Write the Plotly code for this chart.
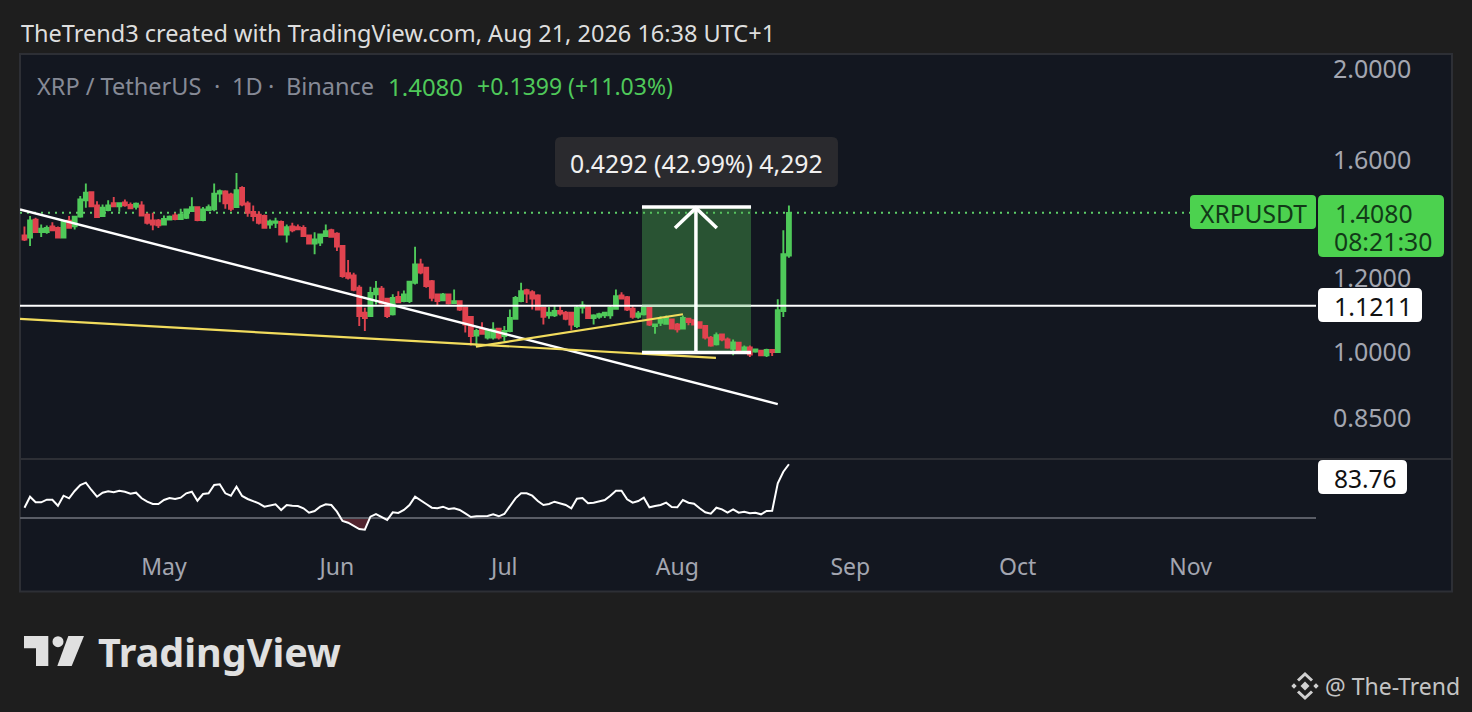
import pandas as pd
import plotly.graph_objects as go

W, H = 1472, 712

# daily candles XRPUSDT
start_day = "2026-04-06"
opens = [1.332,1.325,1.385,1.343,1.343,1.362,1.357,1.325,1.381,1.362,1.395,1.452,1.481,1.434,1.397,1.418,1.442,1.431,1.444,1.436,
         1.429,1.434,1.402,1.382,1.382,1.368,1.385,1.399,1.387,1.391,1.414,1.428,1.383,1.418,1.420,1.476,1.484,1.473,1.428,1.497,
         1.441,1.411,1.402,1.397,1.368,1.374,1.377,1.335,1.362,1.359,1.357,1.332,1.306,1.309,1.330,1.349,1.338,1.298,1.214,1.208,
         1.172,1.102,1.093,1.153,1.169,1.141,1.098,1.146,1.134,1.134,1.186,1.241,1.231,1.191,1.153,1.136,1.153,1.129,1.134,1.116,
         1.091,1.042,1.060,1.037,1.037,1.060,1.041,1.054,1.086,1.134,1.165,1.159,1.150,1.116,1.095,1.095,1.107,1.102,1.102,1.067,
         1.116,1.118,1.088,1.091,1.095,1.095,1.113,1.150,1.145,1.113,1.091,1.098,1.116,1.067,1.075,1.073,1.084,1.071,1.060,1.086,
         1.082,1.077,1.067,1.037,1.020,1.045,1.032,1.009,1.024,1.006,1.012,1.002,1.004,0.993,1.006,1.001,1.107,1.268]
highs = [1.362,1.397,1.391,1.368,1.365,1.376,1.362,1.383,1.397,1.397,1.467,1.513,1.484,1.449,1.437,1.452,1.464,1.445,1.455,1.444,
         1.444,1.449,1.408,1.408,1.387,1.399,1.399,1.408,1.422,1.422,1.463,1.431,1.428,1.437,1.513,1.491,1.488,1.479,1.553,1.503,
         1.449,1.434,1.414,1.402,1.385,1.391,1.382,1.368,1.374,1.368,1.366,1.335,1.343,1.338,1.368,1.354,1.343,1.300,1.254,1.216,
         1.179,1.116,1.175,1.191,1.177,1.143,1.153,1.162,1.164,1.191,1.296,1.258,1.234,1.194,1.155,1.157,1.155,1.167,1.136,1.118,
         1.093,1.060,1.077,1.060,1.077,1.062,1.067,1.111,1.148,1.186,1.169,1.165,1.153,1.118,1.118,1.122,1.122,1.107,1.104,1.122,
         1.134,1.120,1.098,1.102,1.104,1.122,1.167,1.159,1.148,1.122,1.107,1.118,1.118,1.073,1.093,1.095,1.086,1.075,1.095,1.088,
         1.084,1.079,1.069,1.041,1.050,1.047,1.037,1.032,1.025,1.017,1.017,1.009,1.006,1.009,1.007,1.139,1.349,1.434]
lows = [1.314,1.298,1.341,1.327,1.338,1.346,1.322,1.322,1.354,1.352,1.391,1.426,1.429,1.391,1.395,1.414,1.429,1.412,1.429,1.422,
        1.420,1.397,1.368,1.349,1.357,1.366,1.383,1.383,1.385,1.387,1.411,1.379,1.379,1.414,1.414,1.445,1.422,1.414,1.426,1.431,
        1.395,1.379,1.368,1.354,1.354,1.357,1.332,1.309,1.343,1.349,1.327,1.304,1.272,1.298,1.328,1.325,1.282,1.201,1.196,1.162,
        1.067,1.054,1.091,1.125,1.125,1.088,1.095,1.128,1.131,1.129,1.181,1.211,1.172,1.134,1.122,1.134,1.125,1.128,1.107,1.050,
        1.017,1.015,1.044,1.032,1.032,1.032,1.028,1.051,1.084,1.131,1.129,1.111,1.109,1.071,1.086,1.091,1.095,1.082,1.056,1.062,
        1.100,1.086,1.071,1.086,1.088,1.086,1.111,1.139,1.107,1.086,1.086,1.095,1.067,1.047,1.067,1.071,1.058,1.050,1.058,1.069,
        1.069,1.060,1.032,1.014,1.017,1.028,1.009,0.993,1.001,0.999,0.989,0.999,0.992,0.989,0.991,0.999,1.091,1.261]
closes = [1.319,1.382,1.343,1.354,1.357,1.349,1.325,1.379,1.357,1.395,1.455,1.479,1.431,1.394,1.426,1.434,1.431,1.442,1.434,1.424,
          1.440,1.399,1.374,1.368,1.366,1.387,1.395,1.387,1.402,1.420,1.428,1.383,1.420,1.428,1.476,1.485,1.441,1.422,1.488,1.437,
          1.408,1.397,1.374,1.357,1.379,1.379,1.335,1.359,1.349,1.352,1.330,1.306,1.319,1.335,1.346,1.328,1.296,1.206,1.201,1.166,
          1.093,1.088,1.157,1.169,1.128,1.093,1.143,1.131,1.153,1.189,1.241,1.216,1.177,1.143,1.134,1.153,1.128,1.134,1.111,1.071,
          1.041,1.054,1.047,1.056,1.058,1.037,1.054,1.088,1.143,1.162,1.155,1.141,1.111,1.091,1.102,1.107,1.100,1.086,1.071,1.116,
          1.122,1.088,1.095,1.098,1.102,1.116,1.148,1.141,1.111,1.091,1.100,1.116,1.071,1.071,1.084,1.088,1.060,1.058,1.088,1.077,
          1.071,1.062,1.037,1.017,1.043,1.032,1.012,1.025,1.005,1.012,0.995,1.007,0.993,1.006,1.001,1.109,1.272,1.408]

rsi = [40.3,51.3,45.7,45.7,48.3,48.3,42.3,52.3,49.7,57.0,63.0,65.3,58.0,51.3,55.3,56.7,55.7,57.3,56.3,54.3,
       55.3,49.7,46.3,44.0,44.0,48.0,50.0,49.0,50.3,54.7,56.3,47.3,54.0,54.7,63.0,63.7,54.7,52.3,61.3,52.0,
       49.0,47.0,44.7,41.3,42.3,43.7,38.0,43.0,42.3,42.0,39.7,35.3,37.0,41.3,43.7,43.0,36.3,27.0,25.3,22.0,
       19.0,18.3,31.3,34.0,31.3,28.0,35.7,35.0,38.0,43.0,51.3,48.0,44.0,40.3,39.7,41.3,39.0,39.7,38.0,34.7,
       31.0,31.7,32.0,32.0,33.7,31.7,34.0,41.3,49.7,54.7,54.7,52.3,47.0,43.0,44.0,46.3,44.7,43.0,39.7,49.3,
       50.0,44.7,45.3,46.3,48.0,52.3,57.3,57.3,48.7,45.3,47.0,50.3,40.7,42.0,43.0,45.3,41.0,40.7,48.0,45.3,
       44.3,39.7,35.7,34.3,40.3,38.7,35.3,38.7,35.3,36.3,34.7,35.3,33.7,37.0,37.3,64.7,76.3,83.76]
rsi_level = 30

price_ticks = [0.85, 1.0, 1.2, 1.6, 2.0]
price_labels = ["0.8500", "1.0000", "1.2000", "1.6000", "2.0000"]
month_ticks = ["2026-05-01", "2026-06-01", "2026-07-01", "2026-08-01", "2026-09-01", "2026-10-01", "2026-11-01"]
month_labels = ["May", "Jun", "Jul", "Aug", "Sep", "Oct", "Nov"]
last_price = 1.408
level_price = 1.1211

view_x = ["2026-04-05 04:48", "2026-11-23 11:00"]

# drawings on the chart
trend_x = ["2026-04-05 04:48", "2026-08-19"]
trend_y = [1.420, 0.881]
yellow_a_x = ["2026-04-05 04:48", "2026-08-07 22:00"]
yellow_a_y = [1.0856, 0.9866]
yellow_b_x = ["2026-06-25 22:00", "2026-08-02"]
yellow_b_y = [1.0143, 1.098]
box_x = ["2026-07-25 16:00", "2026-08-14 05:00"]
box_y = [0.9995, 1.4287]
arrow_x = "2026-08-04 08:00"
wing_x = ["2026-07-31 14:00", arrow_x, "2026-08-08 02:00"]
wing_y = [1.357, 1.425, 1.357]

days = pd.date_range(start_day, periods=len(closes), freq="D")

BG = "#1e1e1e"
PANE = "#131720"
BORDER = "#2d2f35"
GREEN = "#4fc95a"
RED = "#e0434f"
TEXT_FONT = "Noto Sans"


def fx(x):
    return x / W


def fy(y):
    return 1 - y / H


def rounded(x0, y0, x1, y1, r):
    pts = "M%f,%f L%f,%f Q%f,%f %f,%f L%f,%f Q%f,%f %f,%f L%f,%f Q%f,%f %f,%f L%f,%f Q%f,%f %f,%f Z" % (
        fx(x0 + r), fy(y0), fx(x1 - r), fy(y0), fx(x1), fy(y0), fx(x1), fy(y0 + r),
        fx(x1), fy(y1 - r), fx(x1), fy(y1), fx(x1 - r), fy(y1),
        fx(x0 + r), fy(y1), fx(x0), fy(y1), fx(x0), fy(y1 - r),
        fx(x0), fy(y0 + r), fx(x0), fy(y0), fx(x0 + r), fy(y0))
    return pts


def poly(points):
    return "M" + " L".join("%f,%f" % (fx(a), fy(b)) for a, b in points) + " Z"


def open_path(points):
    return "M" + " L".join("%f,%f" % (fx(a), fy(b)) for a, b in points)


def paper_shape(path, color):
    return dict(type="path", xref="paper", yref="paper", path=path, fillcolor=color, line=dict(width=0), layer="above")


def label(text, x, y, size, color, anchor="left", weight=None):
    return dict(text=text, x=fx(x), y=fy(y), xref="paper", yref="paper", showarrow=False,
                xanchor=anchor, yanchor="middle", borderpad=0,
                font=dict(family=TEXT_FONT, size=size, color=color, weight=weight))


def seg(x, y, color, width=2, xaxis="x", yaxis="y", dash=None):
    return go.Scatter(x=x, y=y, mode="lines", xaxis=xaxis, yaxis=yaxis, hoverinfo="skip", showlegend=False,
                      line=dict(color=color, width=width, dash=dash))


traces = []
traces.append(seg(trend_x, trend_y, "#ffffff", 2.4))
traces.append(go.Candlestick(x=days, open=opens, high=highs, low=lows, close=closes, showlegend=False, hoverinfo="skip",
                             increasing=dict(line=dict(color=GREEN, width=1.9), fillcolor=GREEN),
                             decreasing=dict(line=dict(color=RED, width=1.9), fillcolor=RED),
                             whiskerwidth=0))
traces.append(seg(view_x, [level_price, level_price], "#ffffff", 2))
traces.append(seg(box_x, [level_price, level_price], "#c6e8ca", 2))
traces.append(seg(yellow_a_x, yellow_a_y, "#f2dc5d", 2.2))
traces.append(seg(yellow_b_x, yellow_b_y, "#f2dc5d", 2.2))
traces.append(seg(box_x, [box_y[1], box_y[1]], "#ffffff", 3.5))
traces.append(seg(box_x, [box_y[0], box_y[0]], "#ffffff", 3.5))
traces.append(seg([arrow_x, arrow_x], box_y, "#ffffff", 3.5))
traces.append(seg(wing_x, wing_y, "#ffffff", 3.5))

# rsi pane, red fill under the level
traces.append(seg(days, [rsi_level] * len(days), "rgba(0,0,0,0)", 0, "x2", "y2"))
traces.append(go.Scatter(x=days, y=[min(v, rsi_level) for v in rsi], xaxis="x2", yaxis="y2", mode="lines",
                         fill="tonexty", fillcolor="rgba(224,67,79,0.3)", line=dict(width=0),
                         hoverinfo="skip", showlegend=False))
traces.append(seg(view_x, [rsi_level, rsi_level], "#5a5d66", 2, "x2", "y2"))
traces.append(seg(days, rsi, "#ffffff", 2, "x2", "y2"))

shapes = [
    dict(type="rect", xref="paper", yref="paper", x0=fx(20), x1=fx(1452), y0=fy(54), y1=fy(591.5),
         fillcolor=PANE, line=dict(color=BORDER, width=2), layer="below"),
    dict(type="line", xref="paper", yref="paper", x0=fx(20), x1=fx(1452), y0=fy(459), y1=fy(459),
         line=dict(color=BORDER, width=2), layer="below"),
    dict(type="rect", xref="x", yref="y", x0=box_x[0], x1=box_x[1], y0=box_y[0], y1=box_y[1],
         fillcolor="rgba(76,175,80,0.4)", line=dict(width=0), layer="below"),
    dict(type="line", xref="paper", yref="y", x0=fx(20), x1=fx(1190), y0=last_price, y1=last_price,
         line=dict(color="#5ecf68", width=2, dash="2px,5px"), layer="below"),
    paper_shape(rounded(1190, 195, 1316, 229, 4), "#4cd24f"),
    paper_shape(rounded(1318, 195, 1444, 257, 5), "#4cd24f"),
    paper_shape(rounded(1318, 288, 1422, 322, 5), "#ffffff"),
    paper_shape(rounded(1318, 460, 1407, 494, 5), "#ffffff"),
    paper_shape(rounded(555, 137, 838, 187, 6), "#2a2a2e"),
    # TradingView mark
    paper_shape(poly([(24, 636), (48.3, 636), (48.3, 666), (36, 666), (36, 648.3), (24, 648.3)]), "#e0e0e0"),
    paper_shape(poly([(68.3, 636), (84, 636), (71.7, 666), (57.3, 666)]), "#e0e0e0"),
    dict(type="circle", xref="paper", yref="paper", x0=fx(52.5), x1=fx(63.5), y0=fy(636.2), y1=fy(647.2),
         fillcolor="#e0e0e0", line=dict(width=0), layer="above"),
    # Binance mark
    paper_shape(poly([(1305, 681.5), (1309.5, 686), (1305, 690.5), (1300.5, 686)]), "#d0d0d0"),
    paper_shape(poly([(1294, 683.3), (1296.7, 686), (1294, 688.7), (1291.3, 686)]), "#d0d0d0"),
    paper_shape(poly([(1316, 683.3), (1318.7, 686), (1316, 688.7), (1313.3, 686)]), "#d0d0d0"),
    dict(type="path", xref="paper", yref="paper", path=open_path([(1298, 680.5), (1305, 674), (1312, 680.5)]),
         line=dict(color="#d0d0d0", width=3), layer="above"),
    dict(type="path", xref="paper", yref="paper", path=open_path([(1298, 691.5), (1305, 698), (1312, 691.5)]),
         line=dict(color="#d0d0d0", width=3), layer="above"),
]

annotations = [
    label("TheTrend3 created with TradingView.com, Aug 21, 2026 16:38 UTC+1", 20, 33, 23.5, "#dedede"),
    label("XRP / TetherUS", 36, 86, 23.5, "#868a96"),
    label("·", 217, 86, 23.5, "#868a96", "center"),
    label("1D", 231, 86, 23.5, "#868a96"),
    label("·", 271, 86, 23.5, "#868a96", "center"),
    label("Binance", 285, 86, 23.5, "#868a96"),
    label("1.4080", 387, 86, 24, GREEN),
    label("+0.1399 (+11.03%)", 476, 86, 23, GREEN),
    label("0.4292 (42.99%) 4,292", 696.5, 163, 24.8, "#f0f0f0", "center"),
    label("XRPUSDT", 1253.5, 213, 24.6, "#123a18", "center"),
    label("1.4080", 1373.5, 213, 24.8, "#123a18", "center"),
    label("08:21:30", 1383, 241, 24.8, "#123a18", "center"),
    label("1.1211", 1373, 306, 25, "#111111", "center"),
    label("83.76", 1365.5, 478, 24.5, "#111111", "center"),
    label("TradingView", 97, 652, 39.5, "#e0e0e0", weight=700),
    label("@ The-Trend", 1324, 686, 23, "#c4c4c4"),
]

layout = go.Layout(
    width=W,
    height=H,
    margin=dict(l=0, r=0, t=0, b=0, autoexpand=False),
    paper_bgcolor=BG,
    plot_bgcolor=PANE,
    showlegend=False,
    boxgap=0,
    shapes=shapes,
    annotations=annotations,
    font=dict(family=TEXT_FONT),
    xaxis=dict(domain=[fx(20), fx(1316)], range=view_x, type="date", anchor="y", showgrid=False, zeroline=False,
               showticklabels=False, ticks="", automargin=False, rangeslider=dict(visible=False)),
    yaxis=dict(domain=[fy(459), fy(55)], type="log", range=[-0.1135, 0.3167], side="right", anchor="x",
               tickvals=price_ticks, ticktext=price_labels, showgrid=False, zeroline=False, ticks="", automargin=False,
               ticklabelstandoff=16, tickfont=dict(family=TEXT_FONT, size=25, color="#a3a6b0")),
    xaxis2=dict(domain=[fx(20), fx(1316)], range=view_x, type="date", anchor="y2", showgrid=False, zeroline=False,
                tickvals=month_ticks, ticktext=month_labels, ticks="", ticklabelstandoff=6, automargin=False,
                tickfont=dict(family=TEXT_FONT, size=23, color="#a3a6b0")),
    yaxis2=dict(domain=[fy(545), fy(459)], range=[3, 89], side="right", anchor="x2", showgrid=False, zeroline=False,
                showticklabels=False, ticks="", automargin=False),
)

fig = go.Figure(data=traces, layout=layout)
fig.write_html("out.html", config=dict(displayModeBar=False),
               post_script="document.body.style.margin='0';document.body.style.background='#1e1e1e';")
